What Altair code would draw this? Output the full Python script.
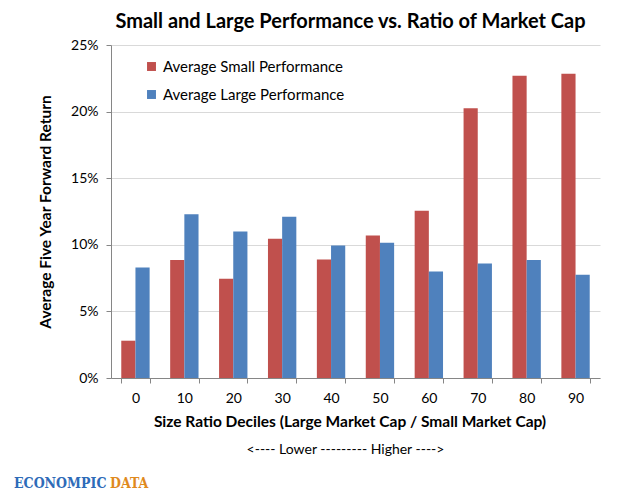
import altair as alt
import pandas as pd

categories = ["0", "10", "20", "30", "40", "50", "60", "70", "80", "90"]
series_names = ["Average Small Performance", "Average Large Performance"]
small_perf = [2.8, 8.85, 7.45, 10.45, 8.9, 10.7, 12.55, 20.25, 22.7, 22.85]
large_perf = [8.3, 12.3, 11.0, 12.1, 9.95, 10.15, 8.0, 8.6, 8.85, 7.75]
y_ticks = [0, 0.05, 0.10, 0.15, 0.20, 0.25]
colors = ["#C0504D", "#4F81BD"]

title_text = "Small and Large Performance vs. Ratio of Market Cap"
x_title = "Size Ratio Deciles (Large  Market Cap / Small Market Cap)"
x_subtitle = "<---- Lower --------- Higher ---->"
y_title = "Average Five Year Forward Return"
logo_a = "ECONOMPIC"
logo_b = "DATA"

rows = []
for c, s, l in zip(categories, small_perf, large_perf):
    rows.append({"decile": c, "series": series_names[0], "value": s / 100})
    rows.append({"decile": c, "series": series_names[1], "value": l / 100})
df = pd.DataFrame(rows)

FONT = "Lato"
W, H = 489, 333

bars = alt.Chart(df).mark_bar().encode(
    x=alt.X("decile:N", sort=categories,
            scale=alt.Scale(paddingInner=0.42, paddingOuter=0.21),
            axis=alt.Axis(title=x_title, labelAngle=0, tickBand="extent",
                          tickSize=5, labelPadding=8, labelFontSize=14,
                          titleFontSize=15.5, titleFontWeight="bold",
                          titlePadding=9, titleX=W / 2 - 6,
                          labelColor="#000000",
                          titleColor="#000000", domainColor="#868686",
                          tickColor="#868686", grid=False)),
    xOffset=alt.XOffset("series:N", sort=series_names),
    y=alt.Y("value:Q", scale=alt.Scale(domain=[0, 0.25], nice=False),
            axis=alt.Axis(title=y_title, format=".0%", values=y_ticks,
                          tickSize=5, labelPadding=8, labelFontSize=14,
                          titleFontSize=15.5, titleFontWeight="bold",
                          titlePadding=17, labelColor="#000000",
                          titleColor="#000000", domainColor="#868686",
                          tickColor="#868686", gridColor="#d9d9d9")),
    color=alt.Color("series:N", sort=series_names,
                    scale=alt.Scale(domain=series_names, range=colors),
                    legend=alt.Legend(title=None, orient="none", legendX=33,
                                      legendY=14, direction="vertical",
                                      symbolType="square", symbolSize=80,
                                      symbolStrokeWidth=0, labelLimit=400,
                                      labelFontSize=15, labelFont=FONT,
                                      labelColor="#000000", rowPadding=12,
                                      labelOffset=4)),
)

sub = alt.Chart(pd.DataFrame({"t": [x_subtitle]})).mark_text(
    font=FONT, fontSize=14, color="#000000", baseline="middle", align="center"
).encode(text="t:N", x=alt.value(W / 2 - 10), y=alt.value(H + 72))

logo1 = alt.Chart(pd.DataFrame({"t": [logo_a]})).mark_text(
    font="DejaVu Serif Condensed", fontSize=14, fontWeight="bold", color="#2E6BB8",
    baseline="alphabetic", align="left"
).encode(text="t:N", x=alt.value(-97), y=alt.value(H + 110))

logo2 = alt.Chart(pd.DataFrame({"t": [logo_b]})).mark_text(
    font="DejaVu Serif Condensed", fontSize=14, fontWeight="bold", color="#E08A1E",
    baseline="alphabetic", align="left"
).encode(text="t:N", x=alt.value(-1), y=alt.value(H + 110))

chart = alt.layer(bars, sub, logo1, logo2).properties(
    width=W, height=H,
    title=alt.TitleParams(title_text, fontSize=20, fontWeight="bold",
                          font=FONT, color="#000000", anchor="middle",
                          offset=6, dx=-5),
    autosize="none",
    padding={"left": 103, "top": 37, "right": 32, "bottom": 112},
).configure_view(stroke=None).configure_axis(labelFont=FONT, titleFont=FONT)

chart.save("out.html", embed_options={"renderer": "svg", "actions": False})
